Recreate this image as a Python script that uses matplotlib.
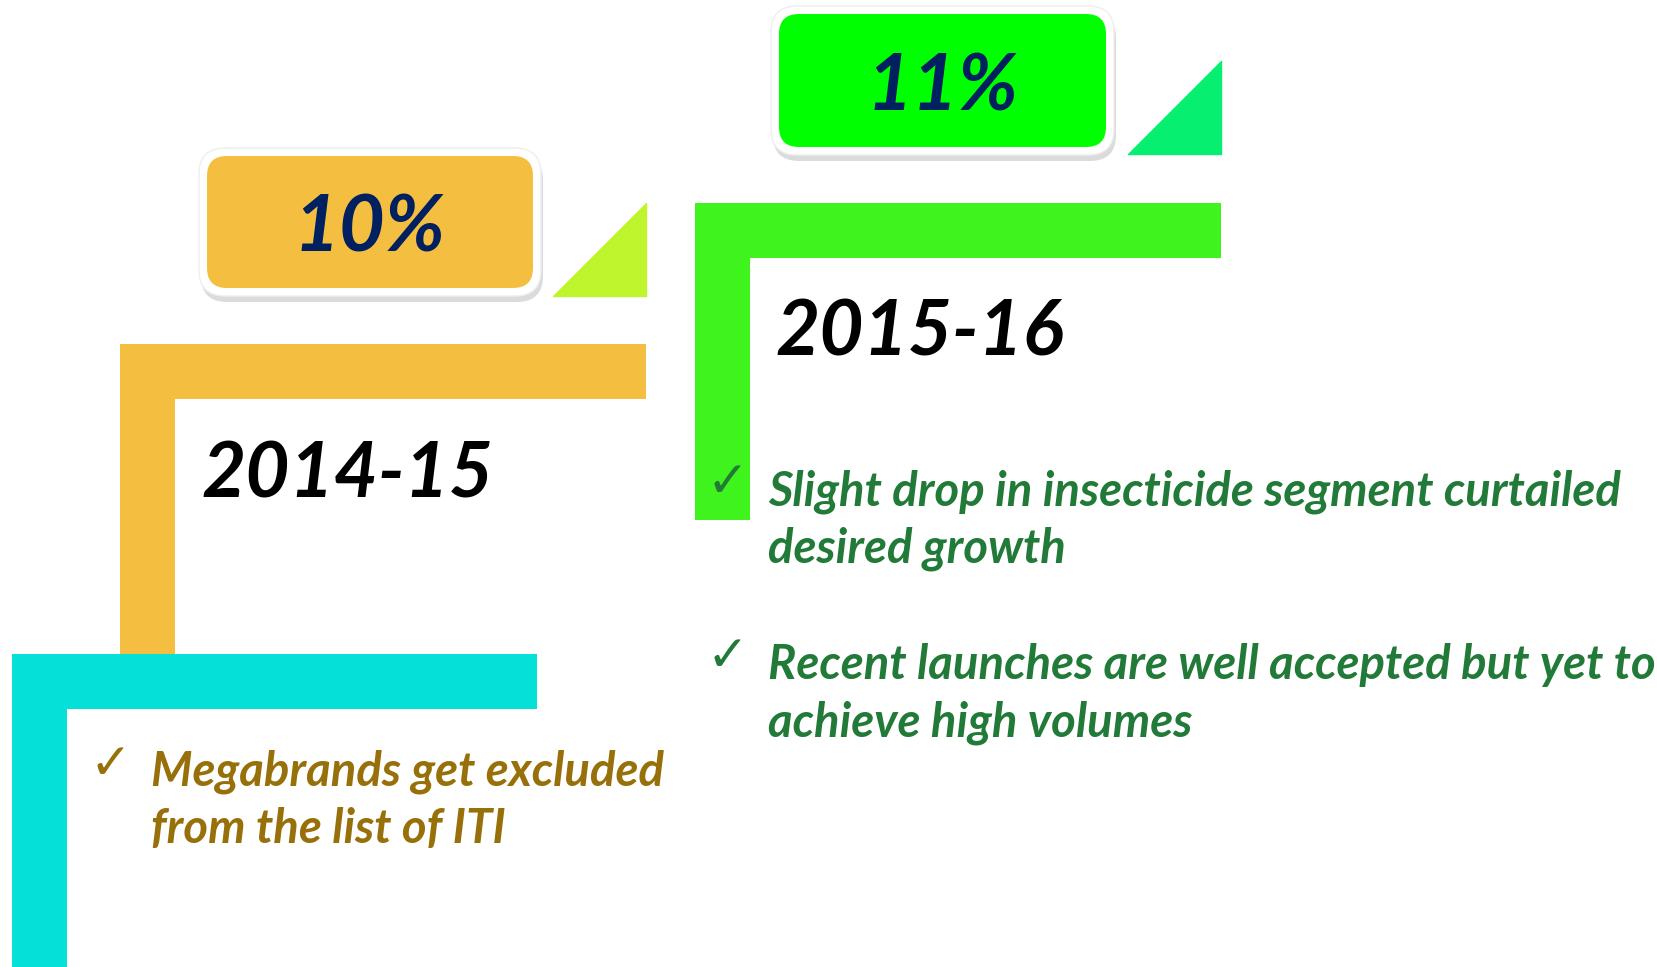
import matplotlib
matplotlib.use("Agg")
import matplotlib.pyplot as plt
from matplotlib.patches import Rectangle, FancyBboxPatch, Polygon

# data
years = ["2014-15", "2015-16"]
growth = ["10%", "11%"]
notes_1415 = ["Megabrands get excluded\nfrom the list of ITI"]
notes_1516 = ["Slight drop in insecticide segment curtailed\ndesired growth",
              "Recent launches are well accepted but yet to\nachieve high volumes"]
step_colors = ["#05E0D9", "#F4BF41", "#3EF41C"]
box_colors = ["#F4BF41", "#00FF00"]
tri_colors = ["#BEF52C", "#06EF70"]

W, H = 1657, 967
fig = plt.figure(figsize=(W / 100, H / 100), dpi=100)
ax = fig.add_axes([0, 0, 1, 1])
ax.set_xlim(0, W)
ax.set_ylim(H, 0)
ax.axis("off")

fam = ["Lato", "DejaVu Sans"]
bar = 55


def step(x0, y0, x1, y1, color):
    # horizontal arm then vertical arm of the "L" step
    ax.add_patch(Rectangle((x0, y0), x1 - x0, bar, color=color, lw=0))
    ax.add_patch(Rectangle((x0, y0), bar, y1 - y0, color=color, lw=0))


step(12, 654, 537, H + 5, step_colors[0])
step(120, 344, 646, 654, step_colors[1])
step(695, 203, 1221, 520, step_colors[2])


def badge(x0, y0, x1, y1, color, label):
    # shadow
    ax.add_patch(FancyBboxPatch((x0 + 2, y0 + 6), x1 - x0, y1 - y0,
                                boxstyle="round,pad=0,rounding_size=26",
                                fc="#999999", ec="none", alpha=0.35))
    ax.add_patch(FancyBboxPatch((x0, y0), x1 - x0, y1 - y0,
                                boxstyle="round,pad=0,rounding_size=26",
                                fc="white", ec="#eeeeee", lw=1))
    ax.add_patch(FancyBboxPatch((x0 + 8, y0 + 8), x1 - x0 - 16, y1 - y0 - 16,
                                boxstyle="round,pad=0,rounding_size=20",
                                fc=color, ec="none"))
    ax.text((x0 + x1) / 2, (y0 + y1) / 2 + 8, label, ha="center", va="center",
            fontsize=57, fontweight="bold", fontstyle="italic",
            color="#002060", family=fam)


badge(199, 148, 541, 296, box_colors[0], growth[0])
badge(771, 6, 1114, 155, box_colors[1], growth[1])

ax.add_patch(Polygon([(553, 296), (646, 296), (646, 203)], closed=True,
                     fc=tri_colors[0], ec=tri_colors[0], lw=1, joinstyle="round"))
ax.add_patch(Polygon([(1128, 154), (1221, 154), (1221, 61)], closed=True,
                     fc=tri_colors[1], ec=tri_colors[1], lw=1, joinstyle="round"))

ax.text(201, 476, years[0], ha="left", va="center", fontsize=55,
        fontweight="bold", fontstyle="italic", color="black", family=fam)
ax.text(775, 333, years[1], ha="left", va="center", fontsize=55,
        fontweight="bold", fontstyle="italic", color="black", family=fam)

brown = "#97700A"
dgreen = "#217A38"

ax.text(110, 765, "\u2713", ha="center", va="center", fontsize=36,
        color=brown, family=["DejaVu Sans"])
ax.text(151, 800, notes_1415[0], ha="left", va="center", fontsize=34,
        fontweight="bold", fontstyle="italic", color=brown, family=fam,
        linespacing=1.35)

for txt, yc, yk in zip(notes_1516, [520, 694], [483, 657]):
    ax.text(727, yk, "\u2713", ha="center", va="center", fontsize=36,
            color=dgreen, family=["DejaVu Sans"])
    ax.text(768, yc, txt, ha="left", va="center", fontsize=34,
            fontweight="bold", fontstyle="italic", color=dgreen, family=fam,
            linespacing=1.35)

fig.savefig("out.png", dpi=100)
